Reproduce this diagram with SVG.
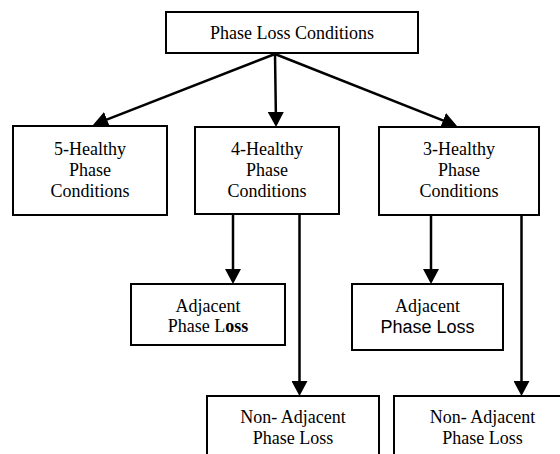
<svg xmlns="http://www.w3.org/2000/svg" width="560" height="454" viewBox="0 0 560 454">
<style>
.box{fill:#fff;stroke:#000;stroke-width:2}
.t{font-family:"Liberation Serif","Times New Roman",serif;font-size:18px;fill:#000;text-anchor:middle}
.s{font-family:"Liberation Sans",Arial,sans-serif;font-size:18px;fill:#000;text-anchor:middle}
.c{stroke:#000;stroke-width:2.5;fill:none;marker-end:url(#ah)}
</style>
<defs>
<marker id="ah" markerUnits="userSpaceOnUse" markerWidth="16" markerHeight="16" refX="12" refY="8" orient="auto" viewBox="0 0 16 16">
<path d="M0,0 L15,8 L0,16 z" fill="#000"/>
</marker>
</defs>
<rect width="560" height="454" fill="#fff"/>
<g id="root">
<rect class="box" x="166" y="12" width="252" height="41"/>
<text class="t" x="292" y="39">Phase Loss Conditions</text>
</g>
<g id="h5">
<rect class="box" x="13" y="126" width="154" height="89"/>
<text class="t" x="90" y="155">5-Healthy</text>
<text class="t" x="90" y="176">Phase</text>
<text class="t" x="90" y="197">Conditions</text>
</g>
<g id="h4">
<rect class="box" x="195" y="127" width="144" height="87"/>
<text class="t" x="267" y="155">4-Healthy</text>
<text class="t" x="267" y="176">Phase</text>
<text class="t" x="267" y="197">Conditions</text>
</g>
<g id="h3">
<rect class="box" x="379" y="127" width="160" height="88"/>
<text class="t" x="459" y="155">3-Healthy</text>
<text class="t" x="459" y="176">Phase</text>
<text class="t" x="459" y="197">Conditions</text>
</g>
<g id="adj4">
<rect class="box" x="131" y="284" width="154" height="61"/>
<text class="t" x="208" y="312">Adjacent</text>
<text class="t" x="208" y="332">Phase L<tspan font-weight="bold">oss</tspan></text>
</g>
<g id="adj3">
<rect class="box" x="352" y="284" width="151" height="66"/>
<text class="t" x="427.5" y="312">Adjacent</text>
<text class="s" x="427.5" y="333">Phase Loss</text>
</g>
<g id="nadj4">
<rect class="box" x="207" y="396" width="172" height="70"/>
<text class="t" x="293" y="423">Non- Adjacent</text>
<text class="t" x="293" y="444">Phase Loss</text>
</g>
<g id="nadj3">
<rect class="box" x="394" y="396" width="177" height="70"/>
<text class="t" x="482.5" y="423">Non- Adjacent</text>
<text class="t" x="482.5" y="444">Phase Loss</text>
</g>
<g id="connectors">
<line class="c" x1="275" y1="54" x2="95.8" y2="123.9"/>
<line class="c" x1="275" y1="54" x2="276" y2="124"/>
<line class="c" x1="275" y1="54" x2="454.2" y2="124.9"/>
<line class="c" x1="233" y1="214" x2="233" y2="281"/>
<line class="c" x1="299.5" y1="214" x2="299.5" y2="393"/>
<line class="c" x1="431" y1="215" x2="431" y2="281"/>
<line class="c" x1="521.5" y1="215" x2="521.5" y2="393"/>
</g>
</svg>
